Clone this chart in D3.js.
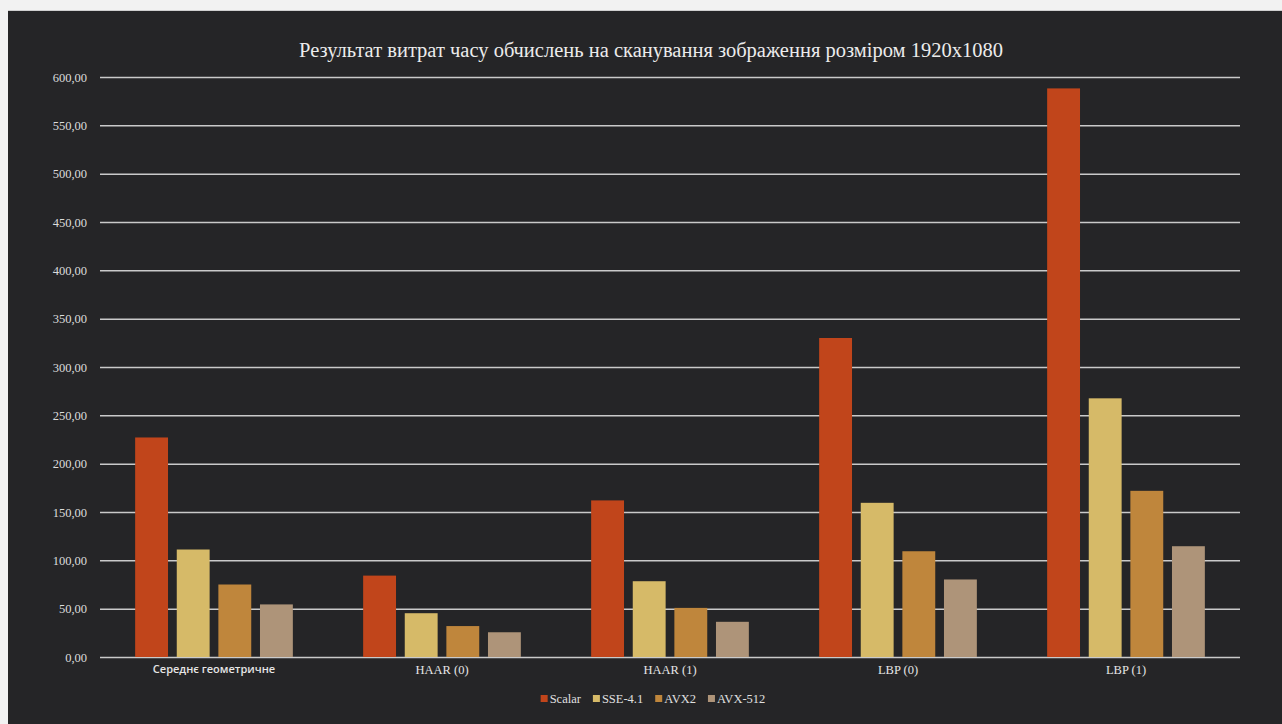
<!DOCTYPE html>
<html>
<head>
<meta charset="utf-8">
<script src="https://cdn.jsdelivr.net/npm/d3@7"></script>
<style>
	html, body { margin: 0; padding: 0; background: #f2f2f2; }
	#chart { position: absolute; left: 0; top: 0; }
</style>
</head>
<body>
<div id="chart"></div>
<script>
// chart data
const categories = ['Середнє геометричне', 'HAAR (0)', 'HAAR (1)', 'LBP (0)', 'LBP (1)'];
const series = ['Scalar', 'SSE-4.1', 'AVX2', 'AVX-512'];
const scalar = [227.1, 84.2, 162.0, 330.0, 588.2];
const sse41 = [111.2, 45.3, 78.4, 159.5, 267.6];
const avx2 = [75.0, 32.0, 50.8, 109.4, 171.9];
const avx512 = [54.4, 25.6, 36.4, 80.2, 114.6];
const yTicks = [0, 50, 100, 150, 200, 250, 300, 350, 400, 450, 500, 550, 600];
const title = 'Результат витрат часу обчислень на сканування зображення розміром 1920x1080';

const colors = ['#c1451b', '#d6ba68', '#bf863c', '#ae9479'];
const values = [scalar, sse41, avx2, avx512];

const rows = categories.map((c, i) => ({
	category: c,
	bars: series.map((s, j) => ({ key: s, value: values[j][i], color: colors[j] })),
}));

var W = 1282, H = 724;
var margin = { top: 77, right: 42, bottom: 67, left: 100 };

var svg = d3.select('#chart').append('svg').attr('width', W).attr('height', H);

// dark panel
svg.append('rect').attr('x', 8).attr('y', 10).attr('width', W - 8).attr('height', H - 10).attr('fill', '#252527');
svg.append('line').attr('x1', 8).attr('x2', W).attr('y1', 10.5).attr('y2', 10.5).attr('stroke', '#cfcfcf');

var x0 = d3.scaleBand().domain(categories).range([margin.left, W - margin.right]).paddingInner(0.27).paddingOuter(0.135);
var x1 = d3.scaleBand().domain(series).range([0, x0.bandwidth()]).paddingInner(0.21).paddingOuter(0.105);
var y = d3.scaleLinear().domain([0, 600]).range([H - margin.bottom, margin.top]);

// gridlines
svg.append('g')
	.selectAll('line')
	.data(yTicks)
	.enter()
	.append('line')
	.attr('x1', margin.left)
	.attr('x2', W - margin.right)
	.attr('y1', (d) => y(d) + 0.5)
	.attr('y2', (d) => y(d) + 0.5)
	.attr('stroke', '#cacaca')
	.attr('stroke-width', 1.5);

// Y axis labels
var yAxis = svg.append('g')
	.attr('transform', 'translate(' + (margin.left - 10) + ',0)')
	.call(d3.axisLeft(y).tickValues(yTicks).tickSize(0).tickFormat((d) => d3.format('.2f')(d).replace('.', ',')));
yAxis.select('.domain').remove();
yAxis.selectAll('text')
	.attr('fill', '#dcdcdc')
	.attr('dx', 0)
	.style('font-family', '"Liberation Serif", serif')
	.style('font-size', '12.5px');

// Bars
svg.append('g')
	.selectAll('g')
	.data(rows)
	.enter()
	.append('g')
	.attr('transform', (d) => 'translate(' + x0(d.category) + ',0)')
	.selectAll('rect')
	.data((d) => d.bars)
	.enter()
	.append('rect')
	.attr('x', (d) => x1(d.key))
	.attr('y', (d) => y(d.value))
	.attr('width', x1.bandwidth())
	.attr('height', (d) => y(0) - y(d.value))
	.attr('fill', (d) => d.color);

// X axis labels
var xAxis = svg.append('g')
	.attr('transform', 'translate(0,' + (H - margin.bottom) + ')')
	.call(d3.axisBottom(x0).tickSize(0).tickPadding(8));
xAxis.select('.domain').remove();
xAxis.selectAll('text')
	.attr('fill', '#e6e6e6')
	.style('font-family', (d, i) => (i === 0 ? '"Open Sans", sans-serif' : '"Liberation Serif", serif'))
	.style('font-weight', (d, i) => (i === 0 ? 600 : 400))
	.style('font-size', (d, i) => (i === 0 ? '11px' : '12.5px'));

// title
svg.append('text')
	.attr('x', 651)
	.attr('y', 57)
	.attr('text-anchor', 'middle')
	.attr('fill', '#ececec')
	.style('font-family', '"Liberation Serif", serif')
	.style('font-size', '20.5px')
	.text(title);

// legend
var legend = svg.append('g').attr('transform', 'translate(0,699)');
var lx = 0;
var items = legend.selectAll('g').data(series).enter().append('g');
items.append('rect').attr('width', 7).attr('height', 7).attr('y', -4).attr('fill', (d, i) => colors[i]);
items.append('text')
	.attr('x', 9)
	.attr('dy', '0.35em')
	.attr('fill', '#e0e0e0')
	.style('font-family', '"Liberation Serif", serif')
	.style('font-size', '12.5px')
	.text((d) => d);
items.each(function () {
	var w = this.querySelector('text').getComputedTextLength() + 9;
	d3.select(this).attr('transform', 'translate(' + lx + ',0)');
	lx += w + 12;
});
legend.attr('transform', 'translate(' + (653 - (lx - 12) / 2) + ',699)');
</script>
</body>
</html>
